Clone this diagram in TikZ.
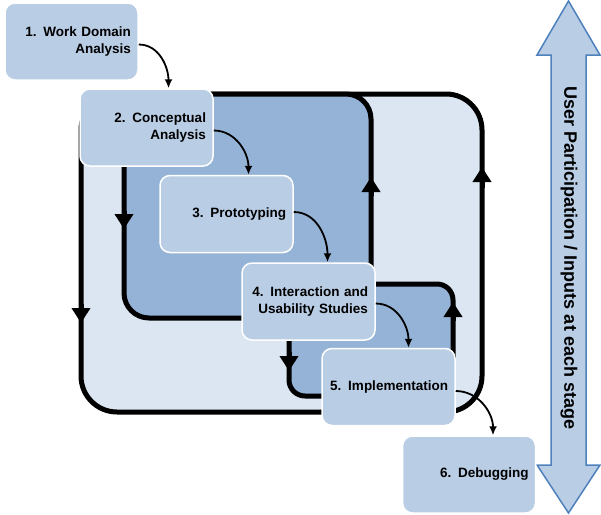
\documentclass[tikz,border=0pt]{standalone}
\usepackage{fontspec}
\setmainfont{Liberation Sans}
\usetikzlibrary{arrows.meta, positioning}

\definecolor{stagefill}{HTML}{B9CDE5}
\definecolor{outerfill}{HTML}{DCE6F2}
\definecolor{innerfill}{HTML}{95B3D7}
\definecolor{arrowline}{HTML}{4F81BD}

\begin{document}
\begin{tikzpicture}[x=1pt, y=-1pt, >=Latex,
  every node/.style={font=\fontsize{13.5}{16.5}\selectfont\bfseries},
  stage/.style={draw=white, line width=1.5pt, fill=stagefill, rounded corners=10pt,
    text width=119pt, align=right, minimum height=77pt, inner xsep=7pt},
  loop/.style={draw=black, line width=5pt},
  flow/.style={line width=1.8pt, -{Latex[length=9pt,width=8pt]}},
  dir/.style={line width=5pt, -{Triangle[width=18pt,length=15pt]}}]

\useasboundingbox (0,0) rectangle (601,514);

% Loops
\draw[loop, fill=outerfill, rounded corners=36pt] (81,94) rectangle (482,412);
\draw[loop, fill=innerfill, rounded corners=25pt] (124,94) rectangle (371,318);
\draw[loop, fill=innerfill, rounded corners=16pt] (289,284) rectangle (453,396);

% Direction marks
\draw[dir] (81,304) -- (81,323);
\draw[dir] (124,211) -- (124,229);
\draw[dir] (371,196) -- (371,177);
\draw[dir] (482,188) -- (482,167);
\draw[dir] (289,352) -- (289,371);
\draw[dir] (453,321) -- (453,302);

% User participation arrow
\draw[draw=arrowline, line width=1.5pt, fill=stagefill]
  (568.5,1) -- (600,55) -- (586,55) -- (586,465) -- (600,465) -- (568.5,513)
  -- (537,465) -- (551,465) -- (551,55) -- (537,55) -- cycle;
\node (upi) [rotate=-90, font=\fontsize{18}{20}\selectfont\bfseries] at (569,258)
  {User Participation / Inputs at each stage};

% Nodes
\node (s1) [stage] at (71.5,41.5) {1. Work Domain\\Analysis};
\node (s2) [stage] at (146.5,127.5) {2. Conceptual\\Analysis};
\node (s3) [stage] at (226.5,214) {3. Prototyping};
\node (s4) [stage] at (308.5,301.5) {4. Interaction and\\Usability Studies};
\node (s5) [stage] at (388.5,387) {5. Implementation};
\node (s6) [stage] at (469,474.5) {6. Debugging};

% Arrows
\draw[flow] ([yshift=-3pt]s1.east) to[out=0, in=90] ([xshift=22pt]s2.north);
\draw[flow] ([yshift=-3pt]s2.east) to[out=0, in=90] ([xshift=22pt]s3.north);
\draw[flow] ([yshift=2pt]s3.east) to[out=0, in=90] ([xshift=19pt]s4.north);
\draw[flow] ([yshift=-2pt]s4.east) to[out=0, in=90] ([xshift=20pt]s5.north);
\draw[flow] ([yshift=-4pt]s5.east) to[out=0, in=90] ([xshift=24pt]s6.north);

\end{tikzpicture}
\end{document}
